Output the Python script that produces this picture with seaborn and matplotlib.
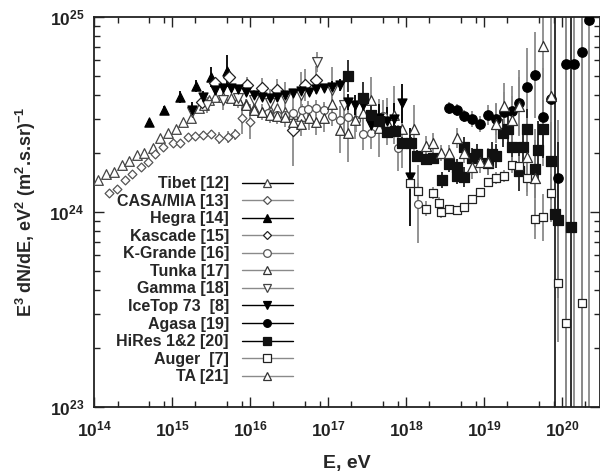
import numpy as np
import matplotlib
matplotlib.use('Agg')
import matplotlib.pyplot as plt
import seaborn as sns
from matplotlib.ticker import LogLocator, FuncFormatter, NullFormatter
from matplotlib.lines import Line2D

# log10(E / eV), E^3 dN/dE in units of 1e24, error bar half-width in dex
tibet_logE = [14.05, 14.15, 14.26, 14.36, 14.45, 14.55, 14.64, 14.76, 14.85, 14.95, 15.05, 15.14, 15.24, 15.35,
              15.41, 15.47, 15.55, 15.65, 15.75, 15.85, 15.95, 16.05, 16.15, 16.25, 16.35, 16.45, 16.55, 16.65]
tibet_F = [1.46, 1.57, 1.60, 1.74, 1.83, 1.96, 2.01, 2.13, 2.40, 2.54, 2.67, 2.90, 3.04, 3.41,
           3.54, 3.75, 3.89, 3.89, 3.84, 3.75, 3.58, 3.41, 3.26, 3.34, 3.41, 3.26, 3.18, 3.11]
tibet_err = [0.005] * 28

casa_logE = [14.19, 14.29, 14.40, 14.49, 14.60, 14.69, 14.78, 14.88, 15.01, 15.10, 15.21, 15.29, 15.40, 15.50,
             15.60, 15.72, 15.81, 15.90, 16.00]
casa_F = [1.25, 1.31, 1.46, 1.57, 1.70, 1.80, 1.98, 2.16, 2.26, 2.26, 2.42, 2.45, 2.48, 2.50,
          2.39, 2.42, 2.50, 3.03, 2.90]
casa_err = [0.01] * 12 + [0.02, 0.02, 0.03, 0.03, 0.03, 0.08, 0.09]

hegra_logE = [14.71, 14.90, 15.10, 15.31, 15.50, 15.71]
hegra_F = [2.89, 3.34, 3.89, 4.43, 4.92, 5.28]
hegra_err = [0.015, 0.02, 0.03, 0.03, 0.05, 0.08]

kascade_logE = [15.38, 15.55, 15.73, 15.96, 16.15, 16.35, 16.55, 16.71, 16.85]
kascade_F = [3.66, 4.58, 4.93, 4.48, 4.32, 4.20, 2.62, 4.48, 4.75]
kascade_err = [0.02, 0.03, 0.04, 0.04, 0.05, 0.06, 0.18, 0.08, 0.07]

kgrande_logE = [16.23, 16.35, 16.45, 16.55, 16.67, 16.74, 16.85, 16.95, 17.05, 17.15, 17.26, 17.36, 17.45,
                17.55, 17.71, 17.90, 18.15]
kgrande_F = [3.22, 3.14, 3.14, 3.22, 3.34, 3.37, 3.41, 3.34, 3.11, 2.97, 3.07, 2.97, 2.51,
             2.54, 3.11, 2.13, 1.10]
kgrande_err = [0.02, 0.02, 0.03, 0.03, 0.03, 0.04, 0.04, 0.04, 0.05, 0.05, 0.06, 0.06, 0.08,
               0.08, 0.08, 0.12, 0.2]

tunka_logE = [15.85, 15.95, 16.05, 16.15, 16.25, 16.35, 16.45, 16.55, 16.65, 16.75, 16.85, 16.95, 17.05,
              17.15, 17.25, 17.35, 17.45, 17.55, 17.65, 17.75, 17.85, 17.95]
tunka_F = [3.75, 3.54, 3.34, 3.26, 3.14, 3.11, 3.07, 2.90, 2.83, 3.03, 2.90, 3.03, 3.58,
           2.64, 2.54, 2.97, 3.22, 3.75, 2.70, 2.90, 3.14, 2.67]
tunka_err = [0.03, 0.03, 0.03, 0.04, 0.04, 0.04, 0.05, 0.05, 0.06, 0.06, 0.07, 0.07, 0.08,
             0.12, 0.15, 0.1, 0.1, 0.12, 0.15, 0.12, 0.15, 0.2]

gamma_logE = [15.25, 15.45, 15.65, 15.85, 16.05, 16.25, 16.45, 16.65, 16.86, 17.05, 17.20]
gamma_F = [3.26, 3.54, 3.75, 3.84, 3.75, 3.62, 3.84, 3.98, 5.88, 4.22, 3.54]
gamma_err = [0.04, 0.04, 0.05, 0.05, 0.05, 0.07, 0.08, 0.12, 0.05, 0.12, 0.15]

icetop_logE = [15.25, 15.40, 15.55, 15.65, 15.75, 15.85, 15.95, 16.05, 16.15, 16.25, 16.35, 16.45, 16.55, 16.65,
               16.75, 16.85, 16.95, 17.05, 17.15, 17.25, 17.35, 17.45, 17.55, 17.65, 17.75, 17.85, 17.95, 18.05]
icetop_F = [3.34, 3.89, 4.22, 4.32, 4.32, 4.27, 4.12, 3.98, 3.89, 3.84, 3.89, 3.98, 4.07, 4.17,
            4.12, 4.27, 4.32, 4.38, 4.48, 3.66, 3.54, 3.54, 2.79, 3.03, 2.93, 3.00, 3.62, 1.51]
icetop_err = [0.04, 0.03] + [0.015] * 15 + [0.03, 0.03, 0.04, 0.05, 0.05, 0.06, 0.07, 0.07, 0.08, 0.1, 0.25]

agasa_logE = [18.55, 18.65, 18.74, 18.85, 18.95, 19.05, 19.15, 19.26, 19.36, 19.45, 19.55, 19.65, 19.76,
              19.86, 19.95, 20.05, 20.15, 20.26, 20.35]
agasa_F = [3.41, 3.34, 3.11, 3.00, 2.83, 3.14, 3.00, 3.26, 3.30, 3.62, 4.38, 5.04, 3.07,
           3.80, 1.49, 5.74, 5.74, 6.62, 9.66]
agasa_err = [0.03, 0.03, 0.03, 0.04, 0.04, 0.05, 0.08, 0.1, 0.13, 0.17, 0.2, 0.22, 0.25,
             0.3, 0.3, 3, 3, 3, 3]

hires_logE = [17.26, 17.45, 17.55, 17.65, 17.76, 17.86, 17.95, 18.06, 18.14, 18.26, 18.35, 18.46, 18.55,
              18.65, 18.65, 18.74, 18.74, 18.85, 18.91, 19.05, 19.10, 19.15, 19.24, 19.31, 19.36, 19.45,
              19.50, 19.55, 19.65, 19.69, 19.76, 19.86, 19.91, 19.95, 20.12]
hires_F = [4.98, 3.84, 3.14, 2.93, 2.57, 2.60, 2.26, 2.26, 1.94, 1.87, 1.89, 1.46, 1.76,
           1.70, 1.53, 2.15, 1.51, 1.89, 1.98, 1.78, 1.98, 1.94, 2.54, 2.67, 2.15, 1.62,
           2.15, 2.67, 1.66, 2.08, 2.67, 1.83, 0.98, 0.91, 0.84]
hires_err = [0.08, 0.08, 0.05, 0.04, 0.03, 0.03, 0.03, 0.03, 0.03, 0.03, 0.03, 0.04, 0.04,
             0.04, 0.04, 0.05, 0.05, 0.05, 0.05, 0.06, 0.06, 0.06, 0.07, 0.07, 0.08, 0.1,
             0.1, 0.1, 0.15, 0.15, 0.15, 0.2, 3, 0.4, 3]

auger_logE = [18.05, 18.15, 18.26, 18.35, 18.42, 18.45, 18.55, 18.65, 18.74, 18.85, 18.95, 19.05, 19.15,
              19.26, 19.36, 19.45, 19.55, 19.65, 19.76, 19.86, 19.95, 20.05, 20.26]
auger_F = [1.41, 1.28, 1.04, 1.25, 1.11, 1.00, 1.04, 1.02, 1.06, 1.17, 1.27, 1.43, 1.49,
           1.53, 1.74, 1.72, 1.49, 0.92, 0.94, 1.25, 0.43, 0.27, 0.34]
auger_err = [0.03, 0.04, 0.04, 0.03, 0.03, 0.03, 0.02, 0.02, 0.02, 0.02, 0.02, 0.02, 0.03,
             0.03, 0.04, 0.05, 0.07, 0.1, 0.12, 0.15, 0.3, 3, 3]

ta_logE = [18.10, 18.26, 18.35, 18.45, 18.55, 18.65, 18.74, 18.85, 18.95, 19.05, 19.15, 19.26, 19.36,
           19.45, 19.55, 19.65, 19.76, 19.86]
ta_F = [2.67, 2.18, 2.26, 2.01, 2.01, 2.40, 2.01, 1.70, 1.81, 1.81, 2.83, 3.50, 2.97,
        3.50, 1.91, 1.49, 7.10, 3.94]
ta_err = [0.12, 0.05, 0.05, 0.04, 0.04, 0.05, 0.05, 0.06, 0.06, 0.07, 0.1, 0.12, 0.12,
          0.15, 0.2, 0.25, 0.4, 0.4]

labels = ['Tibet [12]', 'CASA/MIA [13]', 'Hegra [14]', 'Kascade [15]', 'K-Grande [16]', 'Tunka [17]',
          'Gamma [18]', 'IceTop 73  [8]', 'Agasa [19]', 'HiRes 1&2 [20]', 'Auger  [7]', 'TA [21]']

sns.set_style('ticks')
plt.rcParams['font.family'] = ['Liberation Sans', 'DejaVu Sans']
plt.rcParams['font.weight'] = 'bold'
plt.rcParams['mathtext.fontset'] = 'custom'
for k in ['rm', 'it', 'bf', 'sf']:
    plt.rcParams['mathtext.' + k] = 'Liberation Sans:bold'

fig = plt.figure(figsize=(6, 4.72), dpi=100)
ax = fig.add_axes([0.1567, 0.1377, 0.8433, 0.8263])
ax.set_xscale('log')
ax.set_yscale('log')

gray = '#8a8a8a'
# data, marker, size, face, edge, error colour, legend line colour
styles = [
    (tibet_logE, tibet_F, tibet_err, '^', 48, 'white', '#444444', gray, 'black'),
    (casa_logE, casa_F, casa_err, 'D', 20, 'white', '#555555', gray, gray),
    (hegra_logE, hegra_F, hegra_err, '^', 44, 'black', 'black', 'black', 'black'),
    (kascade_logE, kascade_F, kascade_err, 'D', 38, 'white', '#222222', gray, gray),
    (kgrande_logE, kgrande_F, kgrande_err, 'o', 32, 'white', '#555555', gray, gray),
    (tunka_logE, tunka_F, tunka_err, '^', 48, 'white', '#333333', gray, gray),
    (gamma_logE, gamma_F, gamma_err, 'v', 50, 'white', '#444444', gray, gray),
    (icetop_logE, icetop_F, icetop_err, 'v', 42, 'black', 'black', 'black', 'black'),
    (agasa_logE, agasa_F, agasa_err, 'o', 46, 'black', 'black', gray, 'black'),
    (hires_logE, hires_F, hires_err, 's', 42, '#111111', '#111111', '#222222', 'black'),
    (auger_logE, auger_F, auger_err, 's', 40, 'white', '#222222', gray, gray),
    (ta_logE, ta_F, ta_err, '^', 52, 'white', '#333333', gray, gray),
]

handles = []
for logE, F, err, m, s, fc, edge, ec, lc in styles:
    E = 10 ** np.array(logE)
    Y = np.array(F) * 1e24
    d = np.array(err)
    lo = Y - Y / 10 ** d
    hi = Y * 10 ** d - Y
    ax.errorbar(E, Y, yerr=[lo, hi], fmt='none', ecolor=ec, elinewidth=1.3, capsize=0, zorder=2)
    sns.scatterplot(x=E, y=Y, ax=ax, marker=m, s=s, color=fc, edgecolor=edge, linewidth=0.9, zorder=3)
    handles.append(Line2D([], [], color=lc, lw=1.0, marker=m, markersize=5.5 if m != 'D' else 4.5,
                          markerfacecolor=fc, markeredgecolor=edge, markeredgewidth=0.9))

ax.set_xlim(1e14, 10 ** 20.487)
ax.set_ylim(1e23, 1e25)

fmt = FuncFormatter(lambda v, p: r'$10^{%d}$' % int(round(np.log10(v))))
ax.xaxis.set_major_locator(LogLocator(base=10, numticks=20))
ax.xaxis.set_minor_locator(LogLocator(base=10, subs=[2, 5, 8], numticks=20))
ax.yaxis.set_major_locator(LogLocator(base=10, numticks=20))
ax.yaxis.set_minor_locator(LogLocator(base=10, subs=range(2, 10), numticks=20))
ax.xaxis.set_major_formatter(fmt)
ax.yaxis.set_major_formatter(fmt)
ax.xaxis.set_minor_formatter(NullFormatter())
ax.yaxis.set_minor_formatter(NullFormatter())
ax.tick_params(which='both', direction='in', top=True, right=True, width=1.0, labelsize=12.5, colors='#222222')
ax.tick_params(which='major', length=7, pad=7)
ax.tick_params(axis='x', which='major', pad=9)
ax.tick_params(which='minor', length=4)
for sp in ax.spines.values():
    sp.set_linewidth(1.3)
    sp.set_color('#222222')

ax.set_xlabel('E, eV', fontsize=14, fontweight='bold', labelpad=11)
ax.set_ylabel(r'E$^3$ dN/dE, eV$^2$ (m$^2$.s.sr)$^{-1}$', fontsize=13, fontweight='bold')
ax.yaxis.set_label_coords(-0.11, 0.5)

ax.legend(handles, labels, loc='upper right', bbox_to_anchor=(0.393, 0.592), markerfirst=False,
          frameon=False, handlelength=3.2, handletextpad=0.8, labelspacing=0.16, fontsize=11.5,
          borderpad=0, borderaxespad=0)

fig.savefig('out.png', dpi=100)
